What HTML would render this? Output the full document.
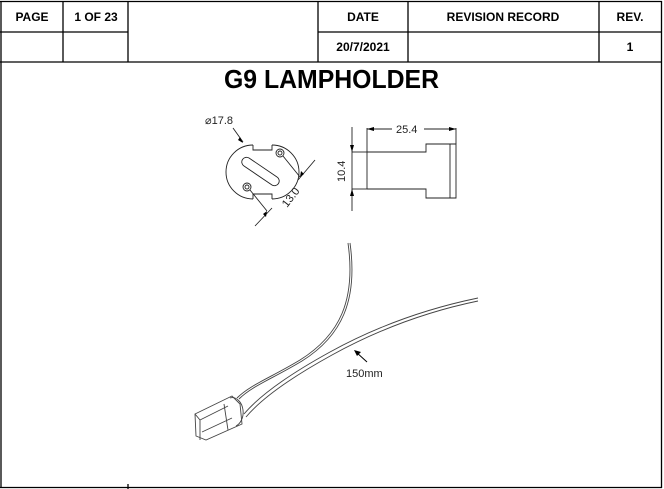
<!DOCTYPE html>
<html><head><meta charset="utf-8"><style>
html,body{margin:0;padding:0;background:#fff;}
svg{display:block;}
text{font-family:"Liberation Sans",sans-serif;}
</style></head><body>
<svg width="664" height="489" viewBox="0 0 664 489" xmlns="http://www.w3.org/2000/svg">
<g stroke="#000" stroke-width="1.3" fill="none">
  <line x1="0" y1="1.5" x2="662" y2="1.5"/>
  <line x1="1" y1="1" x2="1" y2="488"/>
  <line x1="661.5" y1="1" x2="661.5" y2="488"/>
  <line x1="0" y1="487.5" x2="662" y2="487.5"/>
  <line x1="63" y1="1" x2="63" y2="62"/>
  <line x1="128" y1="1" x2="128" y2="62"/>
  <line x1="318" y1="1" x2="318" y2="62"/>
  <line x1="408" y1="1" x2="408" y2="62"/>
  <line x1="599" y1="1" x2="599" y2="62"/>
  <line x1="0" y1="32" x2="128" y2="32"/>
  <line x1="318" y1="32" x2="662" y2="32"/>
  <line x1="0" y1="62" x2="662" y2="62"/>
  <line x1="128" y1="484" x2="128" y2="489"/>
</g>
<g font-size="12" font-weight="bold" text-anchor="middle" fill="#000">
  <text x="32" y="21">PAGE</text>
  <text x="96" y="21">1 OF 23</text>
  <text x="363" y="21">DATE</text>
  <text x="503" y="21">REVISION RECORD</text>
  <text x="630" y="21">REV.</text>
  <text x="363" y="51">20/7/2021</text>
  <text x="630" y="51">1</text>
</g>
<text x="224" y="88" font-size="26" font-weight="bold" textLength="215" lengthAdjust="spacingAndGlyphs">G9 LAMPHOLDER</text>

<!-- front view -->
<g stroke="#222" stroke-width="0.9" fill="none">
  <path d="M253,145 A25,25 0 0 0 253,199 M272,145 A25,25 0 0 1 272,199"/>
  <path d="M253,145 L253,150 L272,150 L272,145"/>
  <path d="M253,199 L253,194 L272,194 L272,199"/>
  <path d="M249,158 L277,177 A4.5,4.5 0 0 1 272,185 L244,166 A4.5,4.5 0 0 1 249,158 Z"/>
  <circle cx="280" cy="153" r="4"/><circle cx="280" cy="153" r="2"/>
  <circle cx="247" cy="187" r="4"/><circle cx="247" cy="187" r="2"/>
  <line x1="283" y1="156" x2="300" y2="177"/>
  <line x1="250" y1="190" x2="267" y2="211"/>
  <line x1="315" y1="160" x2="298" y2="180"/>
  <line x1="272" y1="208" x2="255" y2="226"/>
  <line x1="233" y1="128" x2="243" y2="142"/>
</g>
<path d="M243,143 l-5,-3 l2,-3z M300,177 l1,-6 l3,3z M267,211 l-1,6 l-3,-3z" fill="#000"/>
<text x="205" y="124" font-size="11" fill="#222">⌀17.8</text>
<text x="0" y="0" font-size="11" fill="#222" transform="translate(287,208) rotate(-52)">13.0</text>

<!-- side view -->
<g stroke="#222" stroke-width="0.9" fill="none">
  <line x1="352" y1="127" x2="352" y2="211"/>
  <line x1="352" y1="152" x2="368" y2="152"/>
  <line x1="352" y1="189" x2="368" y2="189"/>
  <line x1="367" y1="128" x2="367" y2="189"/>
  <line x1="456" y1="128" x2="456" y2="144"/>
  <line x1="367" y1="129" x2="392" y2="129"/>
  <line x1="424" y1="129" x2="456" y2="129"/>
  <path d="M367,152 L426,152 L426,144 L456,144 L456,198 L426,198 L426,189 L367,189"/>
  <line x1="450" y1="144" x2="450" y2="198"/>
</g>
<path d="M367,129 l7,-2 l0,4z M456,129 l-7,-2 l0,4z M352,152 l-2,-7 l4,0z M352,189 l-2,7 l4,0z" fill="#000"/>
<text x="396" y="133" font-size="11" fill="#222">25.4</text>
<text x="0" y="0" font-size="11" fill="#222" transform="translate(345,182) rotate(-90)">10.4</text>

<!-- lampholder with wires -->
<g stroke="#444" stroke-width="0.9" fill="none">
  <path d="M348,243 C356,300 340,335 300,360 C270,378 250,385 237,398"/>
  <path d="M350,243 C358,300 342,336 302,361 C272,379 252,386 239,399"/>
  <path d="M478,298 C420,310 370,330 330,352 C290,374 260,395 244,414"/>
  <path d="M478,301 C420,313 372,333 332,355 C292,377 262,398 246,417"/>
  <path d="M195,414 L232,396 L240,404 L242,424 L206,440 L196,436 Z"/>
  <path d="M195,414 L200,420 L200,440 M200,420 L228,406 M202,432 L232,418"/>
  <path d="M230,398 C236,396 242,402 243,410 C244,418 240,424 236,426"/>
  <path d="M224,404 L228,430"/>
</g>
<line x1="367" y1="362" x2="356" y2="352" stroke="#000" stroke-width="1"/>
<path d="M354,350 l7,2 l-4,4z" fill="#000"/>
<text x="346" y="377" font-size="11" fill="#222">150mm</text>
</svg>
</body></html>
